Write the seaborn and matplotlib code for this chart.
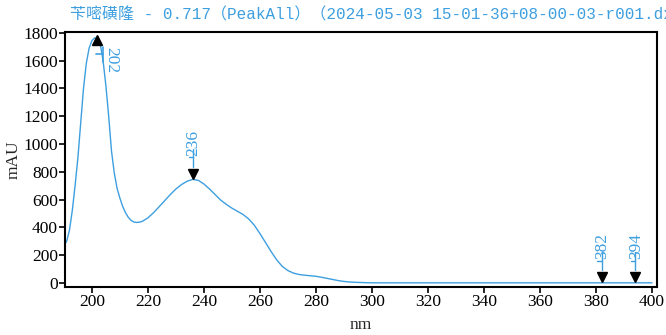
import matplotlib
matplotlib.use('Agg')
import matplotlib.pyplot as plt
import pandas as pd
import seaborn as sns

# spectrum
wavelength = [190, 191, 192, 193, 194, 195, 196, 197, 198, 199, 200, 201, 202, 203, 204,
              205, 206, 207, 208, 209, 210, 211, 212, 213, 214, 215, 216, 217, 218, 220,
              222, 224, 226, 228, 230, 232, 234, 236, 238, 240, 242, 244, 246, 248, 250,
              252, 254, 256, 258, 260, 262, 264, 266, 268, 270, 272, 274, 276, 278, 280,
              282, 284, 286, 288, 290, 292, 295, 298, 300, 320, 340, 360, 380, 400]
absorbance = [265, 300, 380, 520, 700, 900, 1150, 1400, 1580, 1690, 1745, 1765, 1760, 1720, 1600,
              1420, 1200, 950, 790, 680, 610, 550, 505, 472, 450, 438, 435, 437, 443, 468,
              505, 548, 592, 636, 676, 708, 732, 745, 738, 712, 676, 636, 596, 565, 538,
              515, 492, 460, 415, 355, 290, 225, 165, 118, 88, 70, 60, 55, 51, 47,
              40, 32, 24, 16, 10, 6, 3, 1, 0, 0, 0, 0, 0, 0]

peak_nm = [202, 236, 382, 394]
peak_val = [1760, 745, 0, 0]
peak_lbl = ['202', '236', '382', '394']

title_text = '苄嘧磺隆 - 0.717（PeakAll）（2024-05-03 15-01-36+08-00-03-r001.dx'
x_ticks = list(range(200, 401, 20))
y_ticks = list(range(0, 1801, 200))

BLUE = '#3d9fe0'


def main():
    sns.set_style('ticks')
    plt.rcParams['font.family'] = ['Liberation Serif', 'DejaVu Serif']

    df = pd.DataFrame({'nm': wavelength, 'mAU': absorbance})
    fig = plt.figure(figsize=(6.66, 3.35), dpi=100)
    ax = fig.add_axes([0.0976, 0.1433, 0.889, 0.7612])
    sns.lineplot(data=df, x='nm', y='mAU', color=BLUE, linewidth=1.0, ax=ax)

    # peak markers
    for x, y, lbl in zip(peak_nm, peak_val, peak_lbl):
        if lbl == '202':
            ax.plot(x, y - 10, marker='^', color='black', markersize=7, linestyle='none')
            ax.plot([x + 1.8, x + 1.8], [y - 170, y - 60], color=BLUE, linewidth=1.2)
            ax.plot([x - 0.5, x + 1.8], [y - 110, y - 110], color=BLUE, linewidth=1.2)
            ax.text(x + 2.2, y - 60, lbl, rotation=-90, color=BLUE, fontsize=12.5,
                    ha='left', va='top')
        else:
            ax.plot(x, y + 40, marker='v', color='black', markersize=7, linestyle='none')
            ax.plot([x, x], [y + 90, y + 220], color=BLUE, linewidth=1.0)
            ax.plot([x - 1.5, x], [y + 160, y + 160], color=BLUE, linewidth=1.0)
            ax.text(x + 0.3, y + 170, lbl, rotation=90, color=BLUE, fontsize=12.5,
                    ha='center', va='bottom')

    ax.set_xlim(190.4, 401.8)
    ax.set_ylim(-30, 1807)
    ax.set_xticks(x_ticks)
    ax.set_yticks(y_ticks)
    ax.tick_params(labelsize=12.5, length=4, width=1.2, colors='black', pad=1)
    for side in ['top', 'right', 'left', 'bottom']:
        ax.spines[side].set_visible(True)
        ax.spines[side].set_linewidth(1.5)
        ax.spines[side].set_color('black')
    ax.set_xlabel('nm', fontsize=12.5, labelpad=5)
    ax.set_ylabel('mAU', fontsize=12.5, labelpad=1)

    fig.text(70 / 666, 1 - 15 / 335, title_text, color=BLUE, fontsize=11.5,
             family=['Liberation Mono', 'Noto Sans CJK SC'], ha='left', va='center')

    fig.savefig('out.png', dpi=100, facecolor='white')


if __name__ == '__main__':
    main()
